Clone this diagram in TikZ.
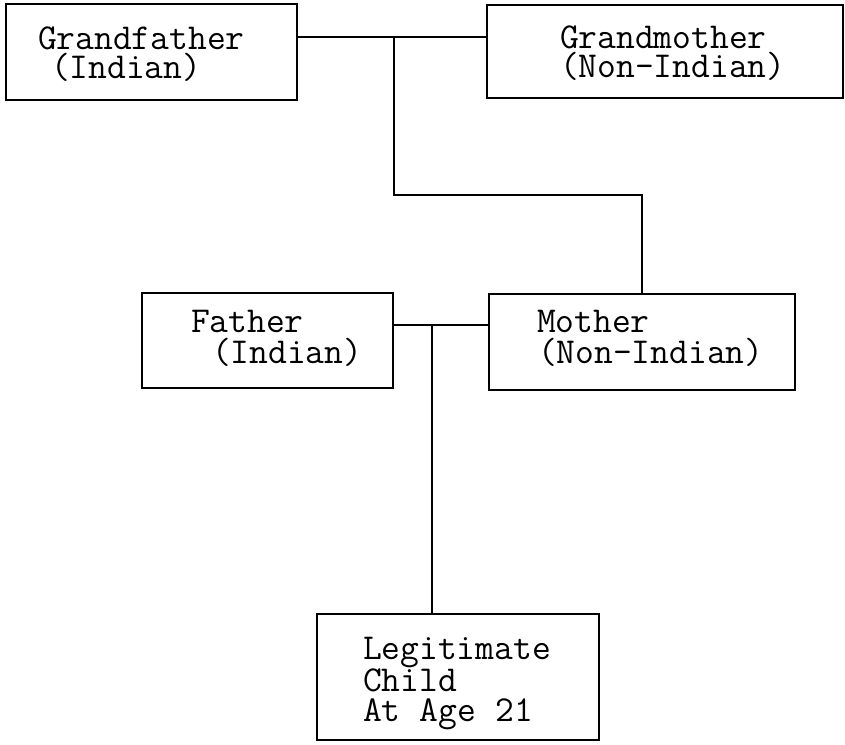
\documentclass[tikz,border=0pt]{standalone}
\usepackage{fontspec}
\begin{document}
\begin{tikzpicture}[x=1pt,y=-1pt,line width=1.8pt,
  box/.style={draw=black, rectangle, inner xsep=0pt, inner ysep=0pt, align=left},
  conn/.style={draw=black, line width=1.8pt}]
\useasboundingbox (0,0) rectangle (845,744);
% boxes
\node[box, text width=291pt, text height=45pt, text depth=51pt,
      font=\ttfamily\fontsize{36.5}{29.5}\selectfont] (gf) at (151.5,52)
  {\hspace*{32pt}Grandfather\\\hspace*{45pt}(Indian)};
\node[box, text width=356pt, text height=43pt, text depth=50pt,
      font=\ttfamily\fontsize{36.5}{29.5}\selectfont] (gm) at (665,51.5)
  {\hspace*{73pt}Grandmother\\\hspace*{73pt}(Non-Indian)};
\node[box, text width=251pt, text height=39pt, text depth=56pt,
      font=\ttfamily\fontsize{36.5}{31}\selectfont] (fa) at (267.5,340.5)
  {\hspace*{49pt}Father\\\hspace*{70pt}(Indian)};
\node[box, text width=306pt, text height=38pt, text depth=58pt,
      font=\ttfamily\fontsize{36.5}{31}\selectfont] (mo) at (642,342)
  {\hspace*{48pt}Mother\\\hspace*{49pt}(Non-Indian)};
\node[box, text width=282pt, text height=45pt, text depth=81pt,
      font=\ttfamily\fontsize{36.5}{30.5}\selectfont] (ch) at (458,677)
  {\spaceskip=0.525em\xspaceskip=0.525em\relax
   \hspace*{46pt}Legitimate\\\hspace*{46pt}Child\\\hspace*{46pt}At Age 21};
% junctions
\coordinate (j1) at (394,37);
\coordinate (k1) at (394,195);
\coordinate (j2) at (432,325);
% connectors
\draw[conn] (gf.east |- j1) -- (gm.west |- j1);
\draw[conn] (j1) -- (k1) -| (mo.north);
\draw[conn] (fa.east |- j2) -- (mo.west |- j2);
\draw[conn] (j2) -- (ch.north -| j2);
\end{tikzpicture}
\end{document}
